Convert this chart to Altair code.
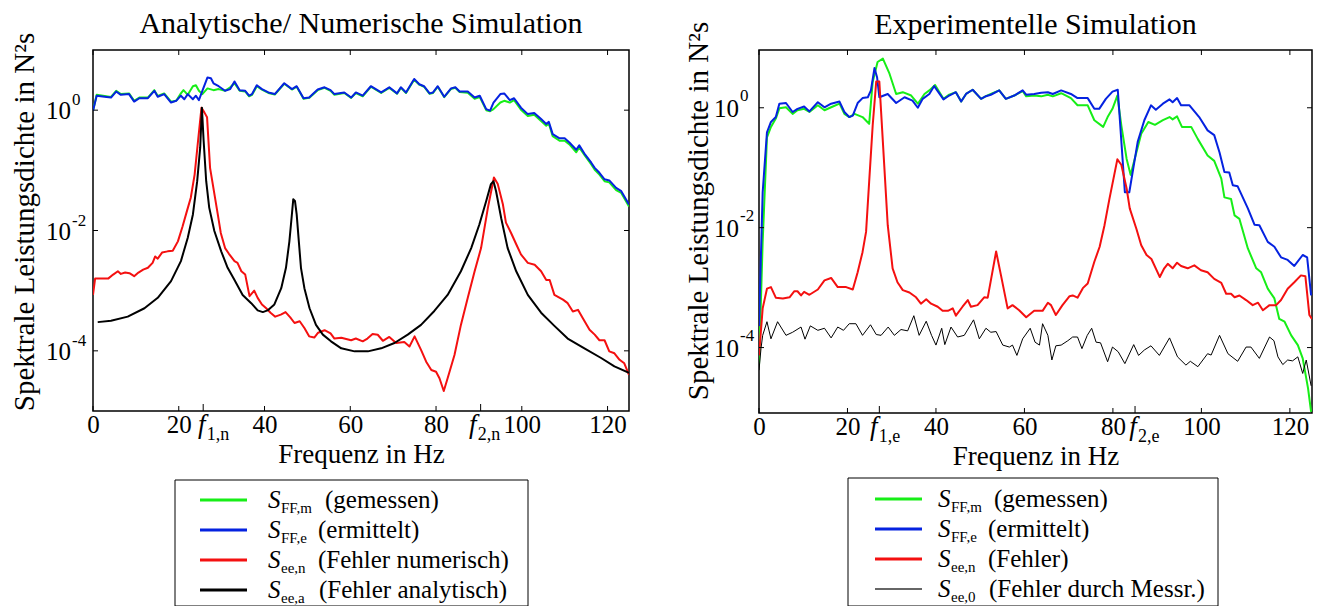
import altair as alt
import pandas as pd

FONT = "Liberation Serif"
LFONT = "Liberation Serif"
GREEN, BLUE, RED, BLACK = "#17ee17", "#0522e0", "#f41010", "#000000"

X_TICKS = [0, 20, 40, 60, 80, 100, 120]
Y_TICKS = [1e0, 1e-2, 1e-4]
Y_EXP = ["0", "-2", "-4"]

L_TITLE = "Analytische/ Numerische Simulation"
R_TITLE = "Experimentelle Simulation"
Y_TITLE = "Spektrale Leistungsdichte in  N²s"

# frequency markers (value, subscript)
L_FMARKS = [(25.7, "1,n"), (90.4, "2,n")]
R_FMARKS = [(27.2, "1,e"), (85.0, "2,e")]

L_LEGEND = [("FF,m", "(gemessen)"), ("FF,e", "(ermittelt)"),
            ("ee,n", "(Fehler numerisch)"), ("ee,a", "(Fehler analytisch)")]
R_LEGEND = [("FF,m", "(gemessen)"), ("FF,e", "(ermittelt)"),
            ("ee,n", "(Fehler)"), ("ee,0", "(Fehler durch Messr.)")]

# ---------------- left panel data: (frequency Hz, PSD N^2 s) ----------------
L_GREEN = [(0,0.98),(0.86,1.80),(2.7,1.72),(4.2,1.66),(5.4,2.1),(6.5,1.85),(8.4,1.9),(9.6,1.43),(10.8,1.62),(12.8,1.62),
           (14.3,2.15),(15.1,1.72),(16.6,1.9),(18.2,1.38),(19.4,1.43),(20.5,1.9),(21.1,2.15),(22.1,1.8),(23.3,2.5),(24.0,2.6),
           (24.7,2.1),(25.5,1.85),(26.7,2.3),(28.1,2.15),(29.3,2.24),(30.8,2.1),(32.0,2.4),(33.0,2.8),(34.2,2.1),(35.5,2.05),
           (36.4,1.7),(37.1,1.8),(38.2,2.5),(39.4,2.2),(40.9,1.93),(42.4,1.82),(44.6,2.75),(46.4,2.2),(47.5,2.45),(49.1,1.55),
           (50.4,1.6),(52.4,2.15),(54.0,2.35),(55.4,2.1),(56.3,1.8),(58.6,1.93),(60.2,1.6),(61.3,1.93),(62.9,1.7),(64.8,2.45),
           (67.2,1.93),(69.1,2.35),(70.9,1.87),(71.8,2.35),(73.0,1.93),(74.9,3.2),(76.1,2.65),(77.2,2.45),(78.5,1.87),(79.3,1.93),
           (80.4,2.45),(81.9,1.65),(83.5,2.25),(84.5,2.35),(85.5,2.0),(87.4,1.95),(89.0,1.55),(90.2,1.65),(91.7,1.0),(92.6,0.96),
           (93.4,1.04),(95.0,1.34),(95.9,1.43),(97.2,1.34),(98.2,1.47),(99.8,1.02),(101.4,0.8),(102.9,0.84),(104.5,0.66),(105.7,0.55),
           (106.3,0.6),(107.2,0.37),(108.8,0.31),(110.0,0.31),(111.1,0.27),(112.7,0.2),(113.4,0.24),(114.6,0.18),(116.2,0.125),(117.0,0.102),
           (118.1,0.085),(119.3,0.066),(120.4,0.063),(122.0,0.047),(123.2,0.042),(125.0,0.025)]
L_BLUE = [(0,0.98),(0.86,1.74),(2.7,1.67),(4.2,1.62),(5.4,2.04),(6.5,1.80),(8.4,1.85),(9.6,1.39),(10.8,1.58),(12.8,1.58),
          (14.3,2.1),(15.1,1.67),(16.6,1.85),(18.2,1.34),(19.4,1.43),(20.5,1.74),(21.3,1.52),(22.1,1.85),(23.3,1.52),(24.0,1.74),
          (24.7,1.47),(25.5,2.1),(26.7,3.5),(27.5,3.4),(28.1,2.8),(29.3,2.5),(30.8,2.1),(32.0,2.24),(33.0,3.0),(34.2,2.15),
          (35.5,2.1),(36.4,1.74),(37.1,1.85),(38.2,2.6),(39.4,2.24),(40.9,1.97),(42.4,1.85),(44.6,2.8),(46.4,2.24),(47.5,2.5),
          (49.1,1.58),(50.4,1.62),(52.4,2.2),(54.0,2.4),(55.4,2.15),(56.3,1.85),(58.6,1.97),(60.2,1.62),(61.3,1.97),(62.9,1.74),
          (64.8,2.5),(67.2,1.97),(69.1,2.4),(70.9,1.9),(71.8,2.4),(73.0,1.97),(74.9,3.3),(76.1,2.7),(77.2,2.5),(78.5,1.9),
          (79.3,1.97),(80.4,2.5),(81.9,1.67),(83.5,2.3),(84.5,2.4),(85.5,2.04),(87.4,2.04),(89.0,1.62),(90.2,1.74),(91.7,1.04),
          (92.6,0.98),(93.4,1.34),(95.0,1.85),(95.9,1.9),(97.2,1.47),(98.2,1.58),(99.8,1.1),(101.4,0.86),(102.9,0.9),(104.5,0.71),
          (105.7,0.59),(106.3,0.64),(107.2,0.40),(108.8,0.34),(110.0,0.34),(111.1,0.29),(112.7,0.22),(113.4,0.26),(114.6,0.19),(116.2,0.134),
          (117.0,0.11),(118.1,0.091),(119.3,0.071),(120.4,0.068),(122.0,0.051),(123.2,0.045),(125.0,0.027)]
L_RED = [(0,8.5e-4),(0.5,1.6e-3),(2.6,1.6e-3),(3.6,1.6e-3),(4.7,1.85e-3),(5.8,2.1e-3),(6.5,1.9e-3),(7.5,2.0e-3),(8.5,1.95e-3),(9.6,1.74e-3),
         (10.6,2.0e-3),(11.7,2.24e-3),(12.8,2.4e-3),(13.9,2.9e-3),(14.5,3.7e-3),(15.1,3.4e-3),(16.1,4.3e-3),(17.4,4.5e-3),(18.6,4.6e-3),(19.8,6.6e-3),
         (20.9,1.18e-2),(21.9,2.1e-2),(22.8,3.5e-2),(23.7,8.5e-2),(24.5,0.31),(25.3,1.1),(26.0,0.91),(26.6,0.76),(27.3,0.11),(28.2,0.045),
         (29.1,0.0185),(29.8,9.1e-3),(30.8,5.1e-3),(31.7,4.1e-3),(33.0,3.1e-3),(33.7,2.9e-3),(34.6,2.1e-3),(35.5,1.85e-3),(36.5,8.1e-4),(37.6,1.0e-3),
         (38.4,7.6e-4),(39.4,5.9e-4),(40.4,5.1e-4),(41.4,4.3e-4),(42.5,3.7e-4),(43.8,4.0e-4),(44.9,4.4e-4),(46.0,3.6e-4),(47.0,2.9e-4),(48.2,3.1e-4),
         (49.3,2.4e-4),(50.4,1.74e-4),(51.6,1.66e-4),(52.5,2.0e-4),(54.0,2.2e-4),(55.4,1.95e-4),(56.3,1.6e-4),(57.9,1.65e-4),(60.2,1.5e-4),(61.3,1.6e-4),
         (62.9,1.44e-4),(64.0,1.6e-4),(65.2,1.9e-4),(66.4,1.85e-4),(67.6,1.47e-4),(69.1,1.7e-4),(70.7,1.35e-4),(72.6,1.4e-4),(73.8,1.18e-4),(75.0,1.74e-4),
         (76.5,1.04e-4),(77.7,6.6e-5),(78.9,4.8e-5),(80.0,4.5e-5),(80.8,3.5e-5),(81.8,2.15e-5),(82.7,3.5e-5),(84.3,8.5e-5),(85.8,2.7e-4),(87.4,7.6e-4),
         (89.0,2.1e-3),(90.5,5.1e-3),(92.1,0.024),(93.5,0.076),(94.4,0.059),(95.6,0.027),(96.3,0.0135),(97.5,9.1e-3),(98.7,5.9e-3),(99.8,4.0e-3),
         (101.4,2.9e-3),(103.0,2.7e-3),(104.5,2.1e-3),(105.7,1.5e-3),(106.5,1.5e-3),(107.6,8.5e-4),(109.6,7.1e-4),(110.7,6.2e-4),(111.9,4.5e-4),(113.1,4.8e-4),
         (114.2,3.5e-4),(115.8,2.24e-4),(117.0,1.86e-4),(118.1,1.5e-4),(119.3,1.5e-4),(120.4,9.8e-5),(121.6,9.1e-5),(122.8,7.1e-5),(123.9,6.2e-5),(125.0,4.0e-5)]
L_BLACK = [(1.1,3.0e-4),(4.2,3.16e-4),(8.1,3.7e-4),(12.0,5.1e-4),(15.1,7.6e-4),(18.2,1.44e-3),(20.5,3.1e-3),(22.1,7.6e-3),(23.3,0.0185),(24.3,0.066),
           (25.0,0.24),(25.4,1.1),(25.8,0.31),(26.4,0.066),(27.1,0.024),(28.3,9.8e-3),(29.9,4.5e-3),(31.4,2.4e-3),(33.0,1.5e-3),(34.9,8.5e-4),
           (36.9,6.2e-4),(38.4,4.7e-4),(39.6,4.4e-4),(40.7,4.7e-4),(42.3,5.9e-4),(43.9,1.1e-3),(45.0,2.4e-3),(45.8,6.6e-3),(46.3,0.016),(46.7,0.033),
           (47.1,0.031),(47.5,0.0185),(48.0,6.6e-3),(48.5,2.4e-3),(49.3,1.1e-3),(50.5,5.1e-4),(52.0,2.7e-4),(53.6,1.86e-4),(55.5,1.44e-4),(57.9,1.1e-4),
           (61.0,9.8e-5),(64.1,9.8e-5),(67.2,1.1e-4),(70.3,1.35e-4),(73.4,1.86e-4),(76.5,2.7e-4),(79.6,4.6e-4),(82.7,8.5e-4),(85.8,2.1e-3),(88.2,5.1e-3),
           (90.1,0.0126),(91.7,0.031),(92.8,0.059),(93.4,0.066),(94.0,0.045),(95.2,0.016),(96.7,5.1e-3),(98.7,2.1e-3),(101.4,8.5e-4),(104.5,4.3e-4),
           (107.6,2.6e-4),(110.7,1.6e-4),(114.6,1.1e-4),(118.5,7.6e-5),(121.6,5.5e-5),(125.0,4.3e-5)]

# ---------------- right panel data ----------------
R_GREEN = [(0,5.1e-5),(0.83,5.8e-3),(1.8,0.32),(2.7,0.48),(3.8,0.66),(4.6,0.98),(6.1,1.02),(7.6,0.79),(8.7,0.91),(10.2,0.96),
           (11.4,0.85),(13.3,1.1),(14.8,0.91),(16.3,1.02),(18.2,1.17),(19.3,0.79),(20.4,0.7),(21.6,0.79),(23.4,0.7),(24.9,0.54),
           (25.7,2.7),(26.8,5.8),(28.0,6.6),(29.5,3.7),(31.0,1.7),(32.5,1.82),(34.4,1.6),(35.9,1.17),(37.4,1.7),(38.5,1.95),
           (39.8,2.4),(41.7,1.41),(43.0,1.66),(44.5,1.82),(45.7,1.27),(46.8,1.7),(48.3,2.0),(50.2,1.41),(51.3,1.56),(52.4,1.7),
           (54.3,1.95),(55.8,1.41),(57.7,1.6),(59.6,1.9),(60.4,1.55),(62.2,1.6),(63.8,1.55),(65.3,1.65),(66.4,1.55),(68.3,1.75),
           (70.5,1.45),(72.0,1.1),(74.3,1.1),(75.8,0.62),(77.8,0.48),(78.8,0.7),(79.9,0.96),(81.0,1.6),(81.9,0.51),(83.1,0.14),
           (84.0,0.076),(85.3,0.18),(86.4,0.37),(88.0,0.58),(89.5,0.52),(91.3,0.62),(92.8,0.7),(93.5,0.64),(94.5,0.72),(95.6,0.48),
           (97.7,0.48),(99.2,0.3),(101.4,0.16),(102.9,0.13),(104.5,0.066),(105.2,0.032),(106.7,0.030),(107.5,0.016),(108.6,0.014),(110.5,4.5e-3),
           (112.4,2.1e-3),(113.5,1.8e-3),(115.0,9.6e-4),(116.5,6.6e-4),(117.6,3.0e-4),(118.8,2.7e-4),(120.3,1.6e-4),(121.8,1.1e-4),(122.9,6.6e-5),(124.1,2.1e-5),
           (124.8,8.5e-6)]
R_BLUE = [(0,2.3e-4),(0.83,0.039),(1.8,0.39),(2.7,0.58),(3.8,0.7),(4.6,1.17),(6.1,1.2),(7.6,0.85),(8.7,0.96),(10.2,1.05),
          (11.4,0.87),(13.3,1.24),(14.8,1.02),(16.3,1.17),(18.2,1.27),(19.3,0.85),(20.4,0.7),(21.2,0.74),(22.3,1.2),(23.4,1.45),
          (24.6,1.5),(25.3,1.95),(26.1,4.6),(26.7,3.2),(27.2,1.5),(29.1,1.7),(31.0,1.2),(32.9,1.5),(34.7,1.32),(35.9,1.0),
          (37.0,1.41),(38.5,1.7),(39.6,2.3),(41.7,1.38),(43.0,1.6),(44.5,1.82),(45.7,1.27),(46.8,1.7),(48.3,2.0),(50.2,1.41),
          (51.3,1.56),(52.4,1.65),(54.3,1.95),(55.8,1.41),(57.7,1.6),(59.6,1.95),(60.4,1.65),(62.2,1.7),(63.8,1.78),(65.3,1.82),
          (66.4,1.7),(68.3,1.95),(70.5,1.7),(72.0,1.45),(74.3,1.45),(75.8,0.96),(76.9,0.96),(78.4,1.41),(79.9,1.86),(81.1,2.0),
          (82.7,0.039),(83.7,0.039),(85.6,0.27),(87.1,0.62),(88.6,1.1),(89.7,0.93),(91.3,1.17),(92.8,1.38),(93.5,1.24),(94.5,1.45),
          (95.4,1.1),(97.3,1.1),(99.5,0.7),(101.4,0.42),(102.9,0.35),(104.1,0.18),(105.2,0.085),(106.3,0.083),(107.1,0.051),(108.2,0.049),
          (110.5,0.021),(112.0,0.0112),(113.1,0.011),(115.0,5.8e-3),(116.5,4.8e-3),(118.0,3.2e-3),(119.5,2.9e-3),(121.0,2.3e-3),(122.9,3.5e-3),(123.9,3.2e-3),
          (124.8,7.4e-4)]
R_RED = [(0,7.4e-5),(0.83,4.5e-4),(1.8,9.6e-4),(2.7,1.02e-3),(3.8,6.8e-4),(5.4,6.6e-4),(6.9,6.9e-4),(8.0,8.7e-4),(8.7,8.7e-4),(9.5,7.4e-4),
         (10.2,8.5e-4),(11.4,7.6e-4),(13.3,9.3e-4),(14.8,1.32e-3),(16.3,1.45e-3),(17.8,1.02e-3),(19.7,1.02e-3),(21.2,9.3e-4),(22.3,1.8e-3),(23.4,3.9e-3),
         (24.2,8.5e-3),(24.9,0.058),(25.7,0.51),(26.5,2.75),(27.2,2.75),(28.0,0.27),(29.1,0.011),(30.2,2.1e-3),(31.3,1.23e-3),(32.5,9.1e-4),
         (34.0,8.3e-4),(35.5,6.9e-4),(36.6,5.4e-4),(37.8,6.4e-4),(38.9,5.4e-4),(40.4,4.8e-4),(41.5,4.1e-4),(42.7,4.1e-4),(43.8,4.5e-4),(44.5,3.4e-4),
         (46.0,4.8e-4),(47.2,6.2e-4),(47.9,4.8e-4),(49.4,5.1e-4),(50.9,6.9e-4),(51.7,6.8e-4),(53.6,4.0e-3),(54.7,1.6e-3),(56.2,4.5e-4),(57.3,5.1e-4),
         (58.8,4.2e-4),(60.4,3.2e-4),(62.2,4.1e-4),(64.1,4.1e-4),(65.3,5.6e-4),(66.0,5.1e-4),(67.1,3.5e-4),(68.6,5.1e-4),(70.2,7.2e-4),(70.9,7.4e-4),
         (72.0,6.8e-4),(73.2,9.8e-4),(74.3,1.17e-3),(75.8,2.7e-3),(77.0,4.8e-3),(78.1,0.011),(79.2,0.030),(81.0,0.138),(81.9,0.112),(83.1,0.045),
         (83.8,0.021),(85.3,9.6e-3),(86.4,5.1e-3),(87.6,3.5e-3),(88.7,3.0e-3),(90.6,1.5e-3),(91.6,2.1e-3),(92.4,2.5e-3),(93.5,2.1e-3),(94.5,2.6e-3),
         (95.4,2.3e-3),(96.9,2.1e-3),(98.4,2.35e-3),(99.9,1.95e-3),(101.4,1.8e-3),(102.9,1.4e-3),(104.5,1.2e-3),(105.6,7.9e-4),(106.7,7.9e-4),(107.5,6.9e-4),
         (108.6,7.4e-4),(110.1,6.2e-4),(111.6,5.1e-4),(112.8,5.6e-4),(113.9,4.2e-4),(115.4,5.1e-4),(116.9,5.1e-4),(118.0,6.2e-4),(119.5,9.6e-4),(121.0,1.23e-3),
         (122.5,1.6e-3),(123.5,1.55e-3),(124.4,3.5e-4),(125.0,3.0e-4)]
R_BLACK = [(0,4.2e-5),(0.45,9.6e-5),(0.83,1.6e-4),(1.8,2.7e-4),(2.7,1.4e-4),(4.2,2.7e-4),(6.1,1.6e-4),(7.6,1.8e-4),(9.5,2.2e-4),(10.4,1.38e-4),
           (11.6,2.3e-4),(13.3,1.94e-4),(14.8,2.1e-4),(16.3,1.45e-4),(17.8,2.2e-4),(19.1,1.94e-4),(20.4,2.5e-4),(21.9,2.5e-4),(23.4,1.6e-4),(25.2,2.4e-4),
           (26.5,1.65e-4),(27.6,1.6e-4),(29.2,2.2e-4),(30.6,1.6e-4),(32.1,2.0e-4),(33.6,1.9e-4),(35.0,3.4e-4),(36.2,1.6e-4),(37.8,2.75e-4),(39.0,1.6e-4),
           (40.0,1.1e-4),(41.3,2.1e-4),(42.0,1.12e-4),(43.4,2.2e-4),(44.9,1.5e-4),(46.4,1.6e-4),(48.5,2.9e-4),(49.8,1.4e-4),(51.3,2.1e-4),(52.4,1.8e-4),
           (53.6,1.85e-4),(55.1,1.1e-4),(56.6,1.02e-4),(57.3,1.1e-4),(58.3,7.4e-5),(59.6,1.4e-4),(61.3,2.1e-4),(62.4,1.23e-4),(63.4,1.1e-4),(64.1,2.5e-4),
           (65.3,1.6e-4),(66.2,6.2e-5),(67.1,1.07e-4),(68.3,1.1e-4),(69.8,1.3e-4),(70.9,1.5e-4),(72.0,1.5e-4),(73.0,9.6e-5),(74.2,1.6e-4),(75.2,2.1e-4),
           (76.2,1.23e-4),(77.2,1.2e-4),(78.8,5.8e-5),(79.9,1.02e-4),(81.2,8.5e-5),(82.7,5.4e-5),(84.7,1.12e-4),(85.8,7.4e-5),(87.1,9.1e-5),(88.6,1.07e-4),
           (90.5,7.4e-5),(92.8,1.45e-4),(94.6,7.0e-5),(96.5,5.1e-5),(97.5,5.9e-5),(99.2,4.8e-5),(101.4,7.9e-5),(102.2,7.5e-5),(104.1,1.6e-4),(106.0,7.9e-5),
           (108.2,5.9e-5),(110.1,1.02e-4),(111.2,1.02e-4),(113.1,6.6e-5),(115.4,1.5e-4),(116.4,1.3e-4),(117.3,7.0e-5),(118.4,5.2e-5),(119.5,6.2e-5),(120.6,6.0e-5),
           (121.8,7.0e-5),(122.9,3.7e-5),(123.7,6.2e-5),(124.8,2.3e-5)]

ONE = pd.DataFrame({"k": [0]})


def panel(title, series, ydom, W, H, fmarks, fdx, legend, lstyle, lay, anchor=False):
    X = alt.X("f:Q", scale=alt.Scale(domain=[0, 125], nice=False, zero=False),
              axis=alt.Axis(values=X_TICKS, ticks=False, domain=False, grid=False,
                            labelFont=FONT, labelFontSize=25, labelColor="black",
                            labelPadding=1, labelFlush=False, labelOverlap=False,
                            title="Frequenz in Hz", titleFont=FONT, titleFontSize=27,
                            titleFontWeight="normal", titleColor="black", titlePadding=4))
    Y = alt.Y("v:Q", scale=alt.Scale(type="log", domain=ydom, nice=False), axis=None)
    layers = []
    if anchor:
        # invisible frame that fixes the page margin left of / above the plot
        layers.append(alt.Chart(ONE).mark_rect(opacity=0).encode(
            x=alt.value(-92), x2=alt.value(0), y=alt.value(-49), y2=alt.value(0)))
    for pairs, color, sw in series:
        df = pd.DataFrame(pairs, columns=["f", "v"])
        layers.append(alt.Chart(df).mark_line(color=color, strokeWidth=sw, clip=True,
                                              strokeJoin="round").encode(x=X, y=Y))
    xt = pd.DataFrame({"f": X_TICKS})
    layers.append(alt.Chart(xt).mark_rule(color="black", strokeWidth=1).encode(
        x=X, y=alt.value(H), y2=alt.value(H - 5)))
    layers.append(alt.Chart(xt).mark_rule(color="black", strokeWidth=1).encode(
        x=X, y=alt.value(0), y2=alt.value(5)))
    ft = pd.DataFrame({"f": [m[0] for m in fmarks]})
    layers.append(alt.Chart(ft).mark_rule(color="black", strokeWidth=1).encode(
        x=X, y=alt.value(H), y2=alt.value(H - 7)))
    yt = pd.DataFrame({"v": Y_TICKS, "e": Y_EXP, "b": ["10"] * 3})
    layers.append(alt.Chart(yt).mark_rule(color="black", strokeWidth=1).encode(
        y=Y, x=alt.value(0), x2=alt.value(5)))
    layers.append(alt.Chart(yt).mark_rule(color="black", strokeWidth=1).encode(
        y=Y, x=alt.value(W - 5), x2=alt.value(W)))
    layers.append(alt.Chart(yt).mark_text(font=FONT, fontSize=25, align="right", baseline="middle",
                                          dy=1, color="black").encode(
        y=Y, x=alt.value(lay["ylab_x"]), text="b:N"))
    layers.append(alt.Chart(yt).mark_text(font=FONT, fontSize=17, align="left", baseline="middle",
                                          dy=lay["exp_dy"], color="black").encode(
        y=Y, x=alt.value(lay["ylab_x"] + 1), text="e:N"))
    # y-axis title and panel title
    layers.append(alt.Chart(ONE).mark_text(font=FONT, fontSize=29, angle=270, align="center",
                                           baseline="alphabetic", color="black").encode(
        x=alt.value(lay["yt_x"]), y=alt.value(lay["yt_y"]), text=alt.value(Y_TITLE)))
    layers.append(alt.Chart(ONE).mark_text(font=FONT, fontSize=30, align="center",
                                           baseline="alphabetic", color="black").encode(
        x=alt.value(W / 2), y=alt.value(lay["title_y"]), text=alt.value(title)))
    for (fv, sub), dx in zip(fmarks, fdx):
        d = pd.DataFrame({"f": [fv]})
        layers.append(alt.Chart(d).mark_text(font=FONT, fontSize=27, fontStyle="italic", align="center",
                                             baseline="alphabetic", dx=dx, color="black").encode(
            x=X, y=alt.value(H + 22), text=alt.value("f")))
        layers.append(alt.Chart(d).mark_text(font=FONT, fontSize=18, align="left",
                                             baseline="alphabetic", dx=dx + 5, color="black").encode(
            x=X, y=alt.value(H + 29), text=alt.value(sub)))
    # legend box
    bx0, bx1, by0, by1 = lay["box"]
    layers.append(alt.Chart(ONE).mark_rect(fill="white", stroke="black", strokeWidth=1).encode(
        x=alt.value(bx0), x2=alt.value(bx1), y=alt.value(by0), y2=alt.value(by1)))
    lx0, lx1, sx, ry0 = lay["lx0"], lay["lx1"], lay["sx"], lay["ry0"]
    for i, ((sub, desc), (color, sw, tx)) in enumerate(zip(legend, lstyle)):
        ry = ry0 + 30 * i
        layers.append(alt.Chart(ONE).mark_rule(color=color, strokeWidth=sw).encode(
            x=alt.value(lx0), x2=alt.value(lx1), y=alt.value(ry)))
        layers.append(alt.Chart(ONE).mark_text(font=LFONT, fontSize=25, fontStyle="italic", align="left",
                                               baseline="middle", color="black").encode(
            x=alt.value(sx), y=alt.value(ry), text=alt.value("S")))
        layers.append(alt.Chart(ONE).mark_text(font=FONT, fontSize=15, align="left",
                                               baseline="middle", color="black").encode(
            x=alt.value(sx + 13), y=alt.value(ry + 8), text=alt.value(sub)))
        layers.append(alt.Chart(ONE).mark_text(font=LFONT, fontSize=25, align="left",
                                               baseline="middle", color="black").encode(
            x=alt.value(tx), y=alt.value(ry), text=alt.value(desc)))
    return alt.layer(*layers).properties(width=W, height=H)


left = panel(L_TITLE,
             [(L_GREEN, GREEN, 2), (L_BLUE, BLUE, 2), (L_RED, RED, 2), (L_BLACK, BLACK, 2)],
             [1e-5, 10], 536, 361, L_FMARKS, [-1.5, -8],
             L_LEGEND,
             [(GREEN, 3, 232), (BLUE, 3, 225), (RED, 3, 225), (BLACK, 3, 226)],
             {"ylab_x": -22, "exp_dy": -10, "yt_x": -59, "yt_y": 172, "title_y": -17,
              "box": (82, 435, 430, 556), "lx0": 107, "lx1": 154, "sx": 175, "ry0": 450},
             anchor=True)
right = panel(R_TITLE,
              [(R_GREEN, GREEN, 2), (R_BLUE, BLUE, 2), (R_RED, RED, 2), (R_BLACK, BLACK, 1)],
              [8.1e-6, 9.2], 553, 363, R_FMARKS, [-5.5, -2],
              R_LEGEND,
              [(GREEN, 3, 235), (BLUE, 3, 229), (RED, 3, 229), ("#333333", 1.5, 230)],
              {"ylab_x": -20, "exp_dy": -12, "yt_x": -51, "yt_y": 161, "title_y": -16,
               "box": (89, 459, 428, 556), "lx0": 116, "lx1": 163, "sx": 179, "ry0": 449})

chart = alt.hconcat(left, right, spacing=130, bounds="flush").properties(
    padding={"left": 0, "top": 0, "right": 0, "bottom": 0}, background="white"
).configure_view(stroke="black", strokeWidth=1.5)

chart.save("out.html", embed_options={"renderer": "svg", "actions": False})
